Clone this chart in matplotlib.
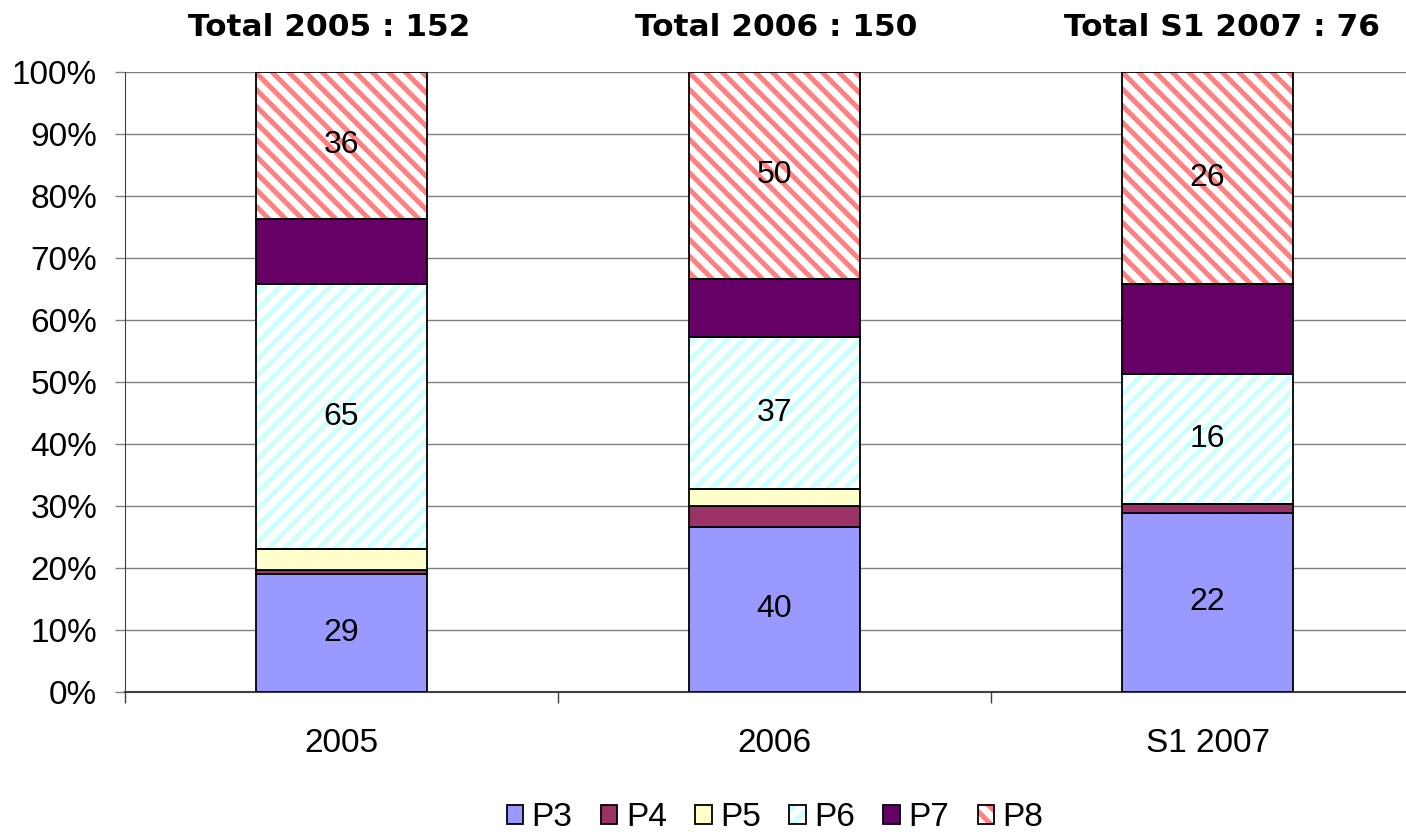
import numpy as np
import matplotlib
matplotlib.use("Agg")
from matplotlib import pyplot as plt
from matplotlib.patches import Patch
from matplotlib.legend_handler import HandlerTuple
from matplotlib.ticker import FixedLocator, NullFormatter

###############
#    DATA     #
###############

periods = ['2005', '2006', 'S1 2007']
titles = ['Total 2005 : 152', 'Total 2006 : 150', 'Total S1 2007 : 76']
series = ['P3', 'P4', 'P5', 'P6', 'P7', 'P8']
p3 = [29, 40, 22]
p4 = [1, 5, 1]
p5 = [5, 4, 0]
p6 = [65, 37, 16]
p7 = [16, 14, 11]
p8 = [36, 50, 26]
labelled = ['P3', 'P6', 'P8']

###############
#   STYLES    #
###############

FACE = {'P3': '#9999FF', 'P4': '#993366', 'P5': '#FFFFCC',
        'P6': 'white', 'P7': '#660066', 'P8': 'white'}
HATCH = {'P6': ('//', '#CCFFFF'), 'P8': ('\\\\', '#FF8080')}
TITLE_X = [329, 776, 1222]  # title centres in pixels

plt.rcParams['font.family'] = ['Liberation Sans', 'DejaVu Sans']
plt.rcParams['hatch.linewidth'] = 3.6

fig = plt.figure(figsize=(14.06, 8.35), dpi=100)
ax = fig.add_axes([125 / 1406, 1 - 692 / 835, 1299 / 1406, 620 / 835])

values = np.array([p3, p4, p5, p6, p7, p8], dtype=float)
totals = values.sum(axis=0)
shares = values / totals * 100
x = np.arange(len(periods))
width = 0.397

bottom = np.zeros(len(periods))
for name, share, raw in zip(series, shares, values):
    if name in HATCH:
        pattern, hcolor = HATCH[name]
        ax.bar(x, share, width, bottom=bottom, color='white', edgecolor=hcolor,
               hatch=pattern, linewidth=0, zorder=2)
        ax.bar(x, share, width, bottom=bottom, fill=False, edgecolor='black',
               linewidth=1.3, zorder=3)
    else:
        ax.bar(x, share, width, bottom=bottom, color=FACE[name], edgecolor='black',
               linewidth=1.3, zorder=3)
    if name in labelled:
        for xi, b, s, r in zip(x, bottom, share, raw):
            ax.text(xi, b + s / 2, f'{int(r)}', ha='center', va='center',
                    fontsize=23, zorder=4)
    bottom += share

# axes
ax.set_xlim(-0.5, len(periods) - 0.5)
ax.set_ylim(0, 100)
ax.set_yticks(np.arange(0, 101, 10))
ax.set_yticklabels([f'{v}%' for v in range(0, 101, 10)], fontsize=24)
ax.yaxis.grid(True, color='#808080', linewidth=1.0, zorder=0)
ax.set_axisbelow(True)

ax.xaxis.set_major_locator(FixedLocator(x - 0.5))
ax.xaxis.set_major_formatter(NullFormatter())
ax.set_xticks(x, minor=True)
ax.set_xticklabels(periods, minor=True, fontsize=24)
ax.tick_params(axis='x', which='minor', length=0, pad=26)
ax.tick_params(axis='x', which='major', length=8, width=1, color='#404040')
ax.tick_params(axis='y', length=7, width=1, color='#808080', pad=13)

for side in ['top', 'right']:
    ax.spines[side].set_visible(False)
ax.spines['left'].set_color('#404040')
ax.spines['bottom'].set_color('#404040')
ax.spines['bottom'].set_linewidth(1.5)

for px, t in zip(TITLE_X, titles):
    fig.text(px / 1406, 1 - 27 / 835, t, ha='center', va='center',
             fontsize=22.5, fontweight='bold', family='DejaVu Sans')

# legend
handles = []
for name in series:
    if name in HATCH:
        pattern, hcolor = HATCH[name]
        handles.append((Patch(facecolor='white', edgecolor=hcolor, hatch=pattern,
                              linewidth=0),
                        Patch(fill=False, edgecolor='black', linewidth=1.3)))
    else:
        handles.append(Patch(facecolor=FACE[name], edgecolor='black', linewidth=1.3))
fig.legend(handles, series, loc='center', bbox_to_anchor=(775 / 1406, 1 - 818 / 835),
           ncol=6, frameon=False, fontsize=24, handlelength=0.5, handleheight=0.5,
           handletextpad=0.25, columnspacing=0.85,
           handler_map={tuple: HandlerTuple(ndivide=1, pad=0)})

fig.savefig('out.png', dpi=100)
